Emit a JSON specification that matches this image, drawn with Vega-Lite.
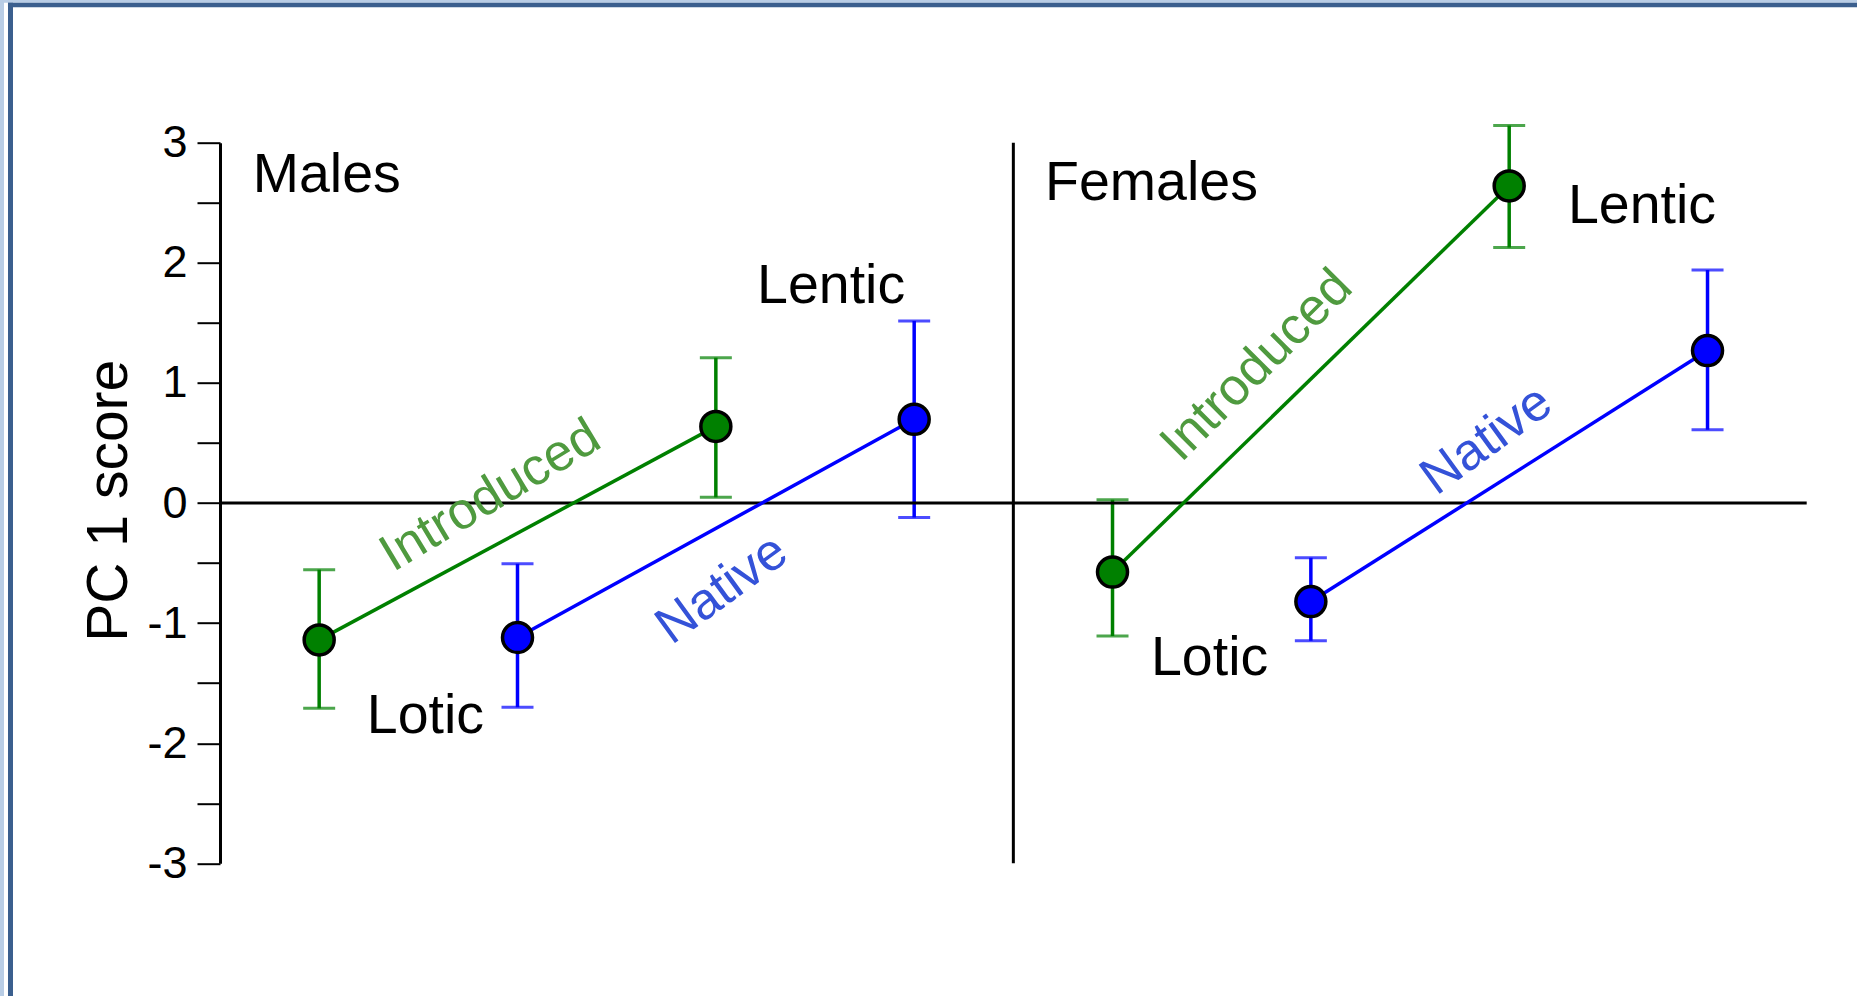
{
  "$schema": "https://vega.github.io/schema/vega-lite/v6.json",
  "width": 1586.7,
  "height": 720.6,
  "autosize": {"type": "none"},
  "padding": {"left": 220, "top": 142.7, "right": 50.3, "bottom": 132.7},
  "background": "white",
  "config": {"view": {"stroke": null}, "font": "Liberation Sans"},
  "data": {"values": [{}]},
  "datasets": {
    "means": [
      {"sex": "Males", "group": "Introduced", "habitat": "Lotic", "pos": 0.5, "mean": -1.14, "lo": -1.71, "hi": -0.555},
      {"sex": "Males", "group": "Introduced", "habitat": "Lentic", "pos": 2.5, "mean": 0.638, "lo": 0.047, "hi": 1.21},
      {"sex": "Males", "group": "Native", "habitat": "Lotic", "pos": 1.5, "mean": -1.12, "lo": -1.70, "hi": -0.505},
      {"sex": "Males", "group": "Native", "habitat": "Lentic", "pos": 3.5, "mean": 0.697, "lo": -0.121, "hi": 1.516},
      {"sex": "Females", "group": "Introduced", "habitat": "Lotic", "pos": 4.5, "mean": -0.575, "lo": -1.107, "hi": 0.027},
      {"sex": "Females", "group": "Introduced", "habitat": "Lentic", "pos": 6.5, "mean": 2.64, "lo": 2.127, "hi": 3.143},
      {"sex": "Females", "group": "Native", "habitat": "Lotic", "pos": 5.5, "mean": -0.821, "lo": -1.147, "hi": -0.456},
      {"sex": "Females", "group": "Native", "habitat": "Lentic", "pos": 7.5, "mean": 1.269, "lo": 0.609, "hi": 1.94}
    ],
    "labels": [
      {"label": "Males", "lx": 0.165, "ly": 2.59},
      {"label": "Females", "lx": 4.16, "ly": 2.52},
      {"label": "Lentic", "lx": 2.708, "ly": 1.665},
      {"label": "Lotic", "lx": 0.74, "ly": -1.918},
      {"label": "Lentic", "lx": 6.796, "ly": 2.331},
      {"label": "Lotic", "lx": 4.694, "ly": -1.432}
    ],
    "groupLabels": [
      {"label": "Introduced", "sex": "Males", "lx": 1.362, "ly": 0.062},
      {"label": "Native", "sex": "Males", "lx": 2.53, "ly": -0.718},
      {"label": "Introduced", "sex": "Females", "lx": 5.226, "ly": 1.146},
      {"label": "Native", "sex": "Females", "lx": 6.385, "ly": 0.525}
    ]
  },
  "layer": [
    {
      "data": {"name": "means"},
      "mark": {"type": "rule", "strokeWidth": 3.5},
      "encoding": {
        "x": {"field": "pos", "type": "quantitative", "scale": {"domain": [0, 8], "nice": false, "zero": false}, "axis": null},
        "y": {
          "field": "lo",
          "type": "quantitative",
          "scale": {"domain": [-3, 3], "nice": false, "zero": false},
          "axis": {
            "values": [-3, -2.5, -2, -1.5, -1, -0.5, 0, 0.5, 1, 1.5, 2, 2.5, 3],
            "labelExpr": "datum.value % 1 === 0 ? '' + datum.value : ''",
            "tickSize": 23,
            "tickWidth": 2,
            "tickColor": "black",
            "domainColor": "black",
            "domainWidth": 3,
            "grid": false,
            "labelFont": "Liberation Sans",
            "labelFontSize": 45,
            "labelColor": "black",
            "labelPadding": 10,
            "labelBaseline": "middle",
            "title": "PC 1 score",
            "titleFont": "Liberation Sans",
            "titleFontSize": 57,
            "titleFontWeight": "normal",
            "titleColor": "black",
            "titleAngle": -90,
            "titleAlign": "center",
            "titleBaseline": "alphabetic",
            "titleX": -94,
            "titleY": 357.5,
            "encode": {"ticks": {"update": {"x2": {"signal": "datum.value % 1 === 0 ? -23 : -12"}}}}
          }
        },
        "y2": {"field": "hi"},
        "color": {"field": "group", "type": "nominal", "scale": {"domain": ["Introduced", "Native"], "range": ["#008000", "#0000ff"]}, "legend": null}
      }
    },
    {
      "mark": {"type": "rule", "color": "#b9cde5", "strokeWidth": 8, "clip": false},
      "encoding": {"x": {"datum": -1.1092, "type": "quantitative", "axis": null}, "y": {"datum": 4.19, "type": "quantitative", "axis": {"title": "PC 1 score"}}, "y2": {"datum": -4.11}}
    },
    {
      "mark": {"type": "rule", "color": "#b9cde5", "strokeWidth": 2.7, "clip": false},
      "encoding": {"y": {"datum": 4.1769, "type": "quantitative", "axis": {"title": "PC 1 score"}}, "x": {"datum": -1.13, "type": "quantitative", "axis": null}, "x2": {"datum": 8.26}}
    },
    {
      "mark": {"type": "rule", "color": "#3b5f8e", "strokeWidth": 4.6, "clip": false},
      "encoding": {"y": {"datum": 4.1466, "type": "quantitative", "axis": {"title": "PC 1 score"}}, "x": {"datum": -1.069, "type": "quantitative", "axis": null}, "x2": {"datum": 8.26}}
    },
    {
      "mark": {"type": "rule", "color": "#3b5f8e", "strokeWidth": 5, "clip": false},
      "encoding": {"x": {"datum": -1.0563, "type": "quantitative", "axis": null}, "y": {"datum": 4.1657, "type": "quantitative", "axis": {"title": "PC 1 score"}}, "y2": {"datum": -4.11}}
    },
    {
      "mark": {"type": "rule", "color": "black", "strokeWidth": 3},
      "encoding": {"y": {"datum": 0, "type": "quantitative", "axis": {"title": "PC 1 score"}}}
    },
    {
      "mark": {"type": "rule", "color": "black", "strokeWidth": 3},
      "encoding": {"x": {"datum": 4, "type": "quantitative", "axis": null}}
    },
    {
      "data": {"name": "means"},
      "mark": {"type": "tick", "orient": "horizontal", "size": 32, "thickness": 3},
      "encoding": {
        "x": {"field": "pos", "type": "quantitative", "axis": null},
        "y": {"field": "lo", "type": "quantitative", "axis": {"title": "PC 1 score"}},
        "color": {"field": "group", "type": "nominal", "scale": {"domain": ["Introduced", "Native"], "range": ["#008000", "#0000ff"]}, "legend": null}
      }
    },
    {
      "data": {"name": "means"},
      "mark": {"type": "tick", "orient": "horizontal", "size": 32, "thickness": 3},
      "encoding": {
        "x": {"field": "pos", "type": "quantitative", "axis": null},
        "y": {"field": "hi", "type": "quantitative", "axis": {"title": "PC 1 score"}},
        "color": {"field": "group", "type": "nominal", "scale": {"domain": ["Introduced", "Native"], "range": ["#008000", "#0000ff"]}, "legend": null}
      }
    },
    {
      "data": {"name": "means"},
      "mark": {"type": "line", "strokeWidth": 3.5},
      "encoding": {
        "x": {"field": "pos", "type": "quantitative", "axis": null},
        "y": {"field": "mean", "type": "quantitative", "axis": {"title": "PC 1 score"}},
        "detail": {"field": "sex", "type": "nominal"},
        "color": {"field": "group", "type": "nominal", "scale": {"domain": ["Introduced", "Native"], "range": ["#008000", "#0000ff"]}, "legend": null}
      }
    },
    {
      "data": {"name": "means"},
      "mark": {"type": "point", "filled": true, "size": 900, "stroke": "black", "strokeWidth": 3.5, "opacity": 1},
      "encoding": {
        "x": {"field": "pos", "type": "quantitative", "axis": null},
        "y": {"field": "mean", "type": "quantitative", "axis": {"title": "PC 1 score"}},
        "fill": {"field": "group", "type": "nominal", "scale": {"domain": ["Introduced", "Native"], "range": ["#008000", "#0000ff"]}, "legend": null}
      }
    },
    {
      "data": {"name": "labels"},
      "mark": {"type": "text", "align": "left", "baseline": "alphabetic", "fontSize": 55.5, "font": "Liberation Sans", "color": "black"},
      "encoding": {
        "x": {"field": "lx", "type": "quantitative", "axis": null},
        "y": {"field": "ly", "type": "quantitative", "axis": {"title": "PC 1 score"}},
        "text": {"field": "label", "type": "nominal"}
      }
    },
    {
      "data": {"name": "groupLabels"},
      "transform": [{"filter": "datum.sex === 'Males' && datum.label === 'Introduced'"}],
      "mark": {"type": "text", "align": "center", "baseline": "middle", "fontSize": 52, "font": "Liberation Sans", "color": "#4f9a3f", "angle": 329},
      "encoding": {"x": {"field": "lx", "type": "quantitative", "axis": null}, "y": {"field": "ly", "type": "quantitative", "axis": {"title": "PC 1 score"}}, "text": {"field": "label", "type": "nominal"}}
    },
    {
      "data": {"name": "groupLabels"},
      "transform": [{"filter": "datum.sex === 'Males' && datum.label === 'Native'"}],
      "mark": {"type": "text", "align": "center", "baseline": "middle", "fontSize": 52, "font": "Liberation Sans", "color": "#3452d8", "angle": 324},
      "encoding": {"x": {"field": "lx", "type": "quantitative", "axis": null}, "y": {"field": "ly", "type": "quantitative", "axis": {"title": "PC 1 score"}}, "text": {"field": "label", "type": "nominal"}}
    },
    {
      "data": {"name": "groupLabels"},
      "transform": [{"filter": "datum.sex === 'Females' && datum.label === 'Introduced'"}],
      "mark": {"type": "text", "align": "center", "baseline": "middle", "fontSize": 52, "font": "Liberation Sans", "color": "#4f9a3f", "angle": 315},
      "encoding": {"x": {"field": "lx", "type": "quantitative", "axis": null}, "y": {"field": "ly", "type": "quantitative", "axis": {"title": "PC 1 score"}}, "text": {"field": "label", "type": "nominal"}}
    },
    {
      "data": {"name": "groupLabels"},
      "transform": [{"filter": "datum.sex === 'Females' && datum.label === 'Native'"}],
      "mark": {"type": "text", "align": "center", "baseline": "middle", "fontSize": 52, "font": "Liberation Sans", "color": "#3452d8", "angle": 324},
      "encoding": {"x": {"field": "lx", "type": "quantitative", "axis": null}, "y": {"field": "ly", "type": "quantitative", "axis": {"title": "PC 1 score"}}, "text": {"field": "label", "type": "nominal"}}
    }
  ]
}
